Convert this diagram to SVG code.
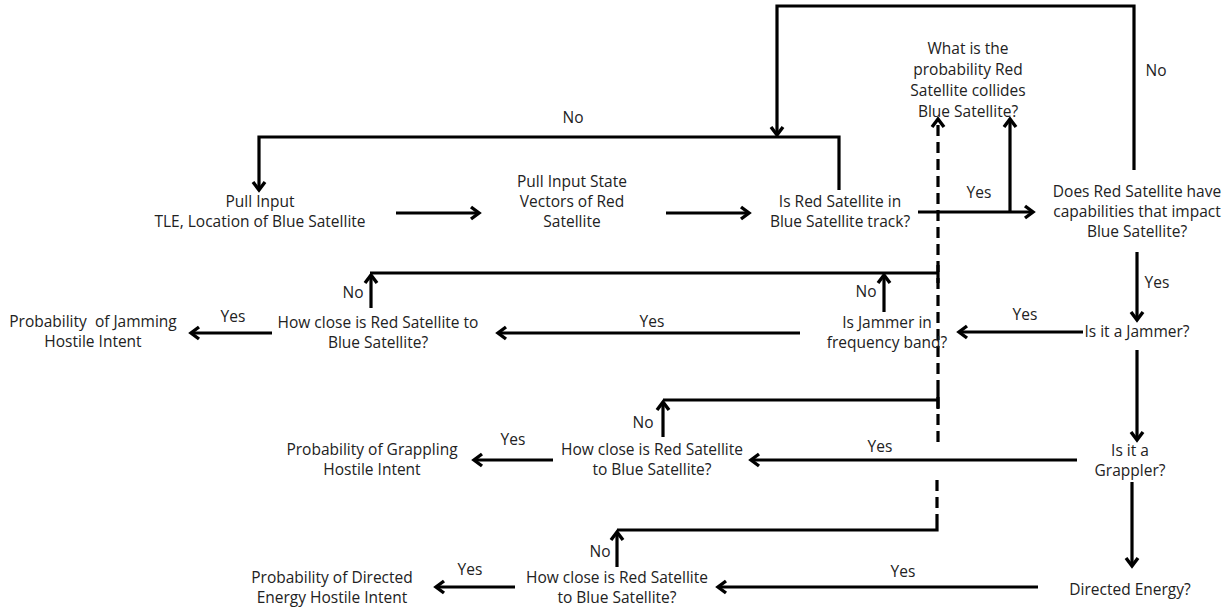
<svg xmlns="http://www.w3.org/2000/svg" width="1231" height="609" viewBox="0 0 1231 609">
<style>
text{font-family:"Open Sans","Noto Sans",sans-serif;font-size:15.5px;fill:#222;text-anchor:middle;white-space:pre}
.c{fill:none;stroke:#000;stroke-width:3.2}
.a{marker-end:url(#ah)}
.d{stroke-dasharray:11 6}
</style>
<defs>
<marker id="ah" markerUnits="userSpaceOnUse" viewBox="-3 -3 14 18" markerWidth="14" markerHeight="18" refX="8" refY="6" orient="auto">
<path d="M0,0 L8,6 L0,12" fill="none" stroke="#000" stroke-width="3.4"/>
</marker>
</defs>
<rect width="1231" height="609" fill="#fff"/>
<g id="connectors">
<path class="c a" d="M1134,170 V6 H777 V135"/>
<path class="c a" d="M839,190 V137 H259 V190"/>
<path class="c a" d="M396,213 H479"/>
<path class="c a" d="M666,213 H749"/>
<path class="c a" d="M918,212 H1033"/>
<path class="c a" d="M1010,212 V119"/>
<path class="c a d" d="M938,442 V119"/>
<path class="c" d="M938,265 V283 M938,391 V409"/>
<path class="c a" d="M1137,252 V320"/>
<path class="c a" d="M1083,332 H959"/>
<path class="c a" d="M1137,350 V440"/>
<path class="c a" d="M1077,460 H751"/>
<path class="c a" d="M1132,482 V566"/>
<path class="c a" d="M1038,587 H718"/>
<path class="c a" d="M884,312 V275"/>
<path class="c" d="M370,273 H938"/>
<path class="c a" d="M800,333 H498"/>
<path class="c a" d="M371,308 V275"/>
<path class="c a" d="M272,333 H191"/>
<path class="c a" d="M663,437 V402"/>
<path class="c" d="M663,400 H938"/>
<path class="c a" d="M553,460 H474"/>
<path class="c a" d="M617,567 V532"/>
<path class="c" d="M617,530 H937 V514"/>
<path class="c d" d="M937,480 V514"/>
<path class="c a" d="M515,587 H436"/>
</g>
<g id="labels">
<text x="573" y="123">No</text>
<text x="1156" y="76">No</text>
<text x="979" y="198">Yes</text>
<text x="1157" y="288">Yes</text>
<text x="1025" y="320">Yes</text>
<text x="866" y="297">No</text>
<text x="652" y="327">Yes</text>
<text x="353" y="298">No</text>
<text x="233" y="322">Yes</text>
<text x="880" y="452">Yes</text>
<text x="643" y="428">No</text>
<text x="513" y="445">Yes</text>
<text x="903" y="577">Yes</text>
<text x="600" y="557">No</text>
<text x="470" y="575">Yes</text>
</g>
<g id="pull-input"><text x="260" y="207">Pull Input</text><text x="260" y="227">TLE, Location of Blue Satellite</text></g>
<g id="pull-state"><text x="572" y="187">Pull Input State</text><text x="572" y="207">Vectors of Red</text><text x="572" y="227">Satellite</text></g>
<g id="in-track"><text x="840" y="207">Is Red Satellite in</text><text x="840" y="227">Blue Satellite track?</text></g>
<g id="collide"><text x="968" y="54">What is the</text><text x="968" y="75">probability Red</text><text x="968" y="96">Satellite collides</text><text x="968" y="117">Blue Satellite?</text></g>
<g id="capabilities"><text x="1137" y="197">Does Red Satellite have</text><text x="1137" y="217">capabilities that impact</text><text x="1137" y="237">Blue Satellite?</text></g>
<g id="jammer"><text x="1137" y="337">Is it a Jammer?</text></g>
<g id="freq-band"><text x="887" y="328">Is Jammer in</text><text x="887" y="348">frequency band?</text></g>
<g id="close-jam"><text x="378" y="328">How close is Red Satellite to</text><text x="378" y="348">Blue Satellite?</text></g>
<g id="prob-jam"><text x="93" y="327">Probability  of Jamming</text><text x="93" y="347">Hostile Intent</text></g>
<g id="grappler"><text x="1130" y="456">Is it a</text><text x="1130" y="476">Grappler?</text></g>
<g id="close-grap"><text x="652" y="455">How close is Red Satellite</text><text x="652" y="475">to Blue Satellite?</text></g>
<g id="prob-grap"><text x="372" y="455">Probability of Grappling</text><text x="372" y="475">Hostile Intent</text></g>
<g id="directed"><text x="1130" y="595">Directed Energy?</text></g>
<g id="close-de"><text x="617" y="583">How close is Red Satellite</text><text x="617" y="603">to Blue Satellite?</text></g>
<g id="prob-de"><text x="332" y="583">Probability of Directed</text><text x="332" y="603">Energy Hostile Intent</text></g>
</svg>
